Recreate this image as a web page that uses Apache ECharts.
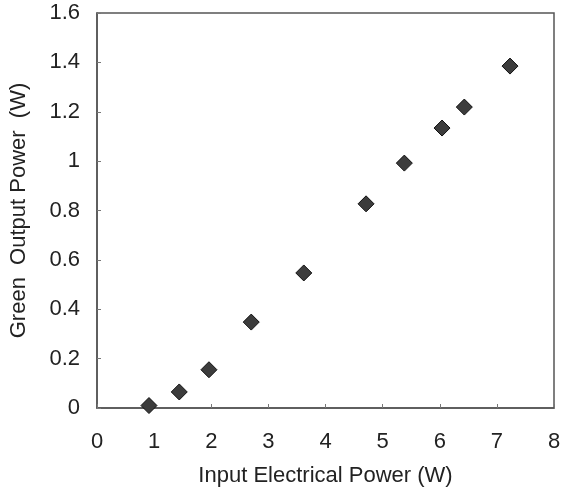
<!DOCTYPE html>
<html>
<head>
<meta charset="utf-8">
<script src="https://cdn.jsdelivr.net/npm/echarts@6/dist/echarts.min.js"></script>
<style>html,body{margin:0;padding:0;background:#fff;}#c{width:564px;height:488px;}</style>
</head>
<body>
<div id="c"></div>
<script>
const inputPower = [0.91, 1.44, 1.96, 2.70, 3.62, 4.71, 5.38, 6.04, 6.43, 7.23];
const greenPower = [0.01, 0.065, 0.155, 0.348, 0.547, 0.827, 0.992, 1.134, 1.219, 1.385];
const xTitle = 'Input Electrical Power (W)';
const yTitle = 'Green  Output Power  (W)';

const points = inputPower.map((x, i) => [x, greenPower[i]]);
const chart = echarts.init(document.getElementById('c'));
const font = '"Liberation Sans", Arial, sans-serif';
chart.setOption({
  animation: false,
  backgroundColor: '#fff',
  grid: { left: 97, right: 10, top: 13, bottom: 80, outerBoundsMode: 'none', containLabel: false,
    show: true, borderColor: '#555', borderWidth: 1.5, backgroundColor: 'transparent' },
  xAxis: {
    type: 'value', min: 0, max: 8, interval: 1,
    name: xTitle, nameLocation: 'middle', nameGap: 57,
    nameTextStyle: { fontFamily: font, fontSize: 22, color: '#222' },
    axisLine: { show: true, lineStyle: { color: '#555', width: 1.5 } },
    axisTick: { show: true, inside: true, length: 4, lineStyle: { color: '#777' } },
    axisLabel: { fontFamily: font, fontSize: 22, color: '#222', margin: 23 },
    splitLine: { show: false }
  },
  yAxis: {
    type: 'value', min: 0, max: 1.6, interval: 0.2,
    name: yTitle, nameLocation: 'middle', nameGap: 67, nameRotate: 90,
    nameTextStyle: { fontFamily: font, fontSize: 22, color: '#222' },
    axisLine: { show: true, lineStyle: { color: '#555', width: 1.5 } },
    axisTick: { show: true, inside: true, length: 4, lineStyle: { color: '#777' } },
    axisLabel: { fontFamily: font, fontSize: 22, color: '#222', margin: 17,
      formatter: v => String(Math.round(v * 10) / 10) },
    splitLine: { show: false }
  },
  series: [{
    type: 'scatter',
    data: points,
    symbol: 'diamond',
    symbolSize: 16,
    itemStyle: { color: '#3c3c3c', borderColor: '#111', borderWidth: 1, opacity: 1 }
  }]
});
</script>
</body>
</html>
